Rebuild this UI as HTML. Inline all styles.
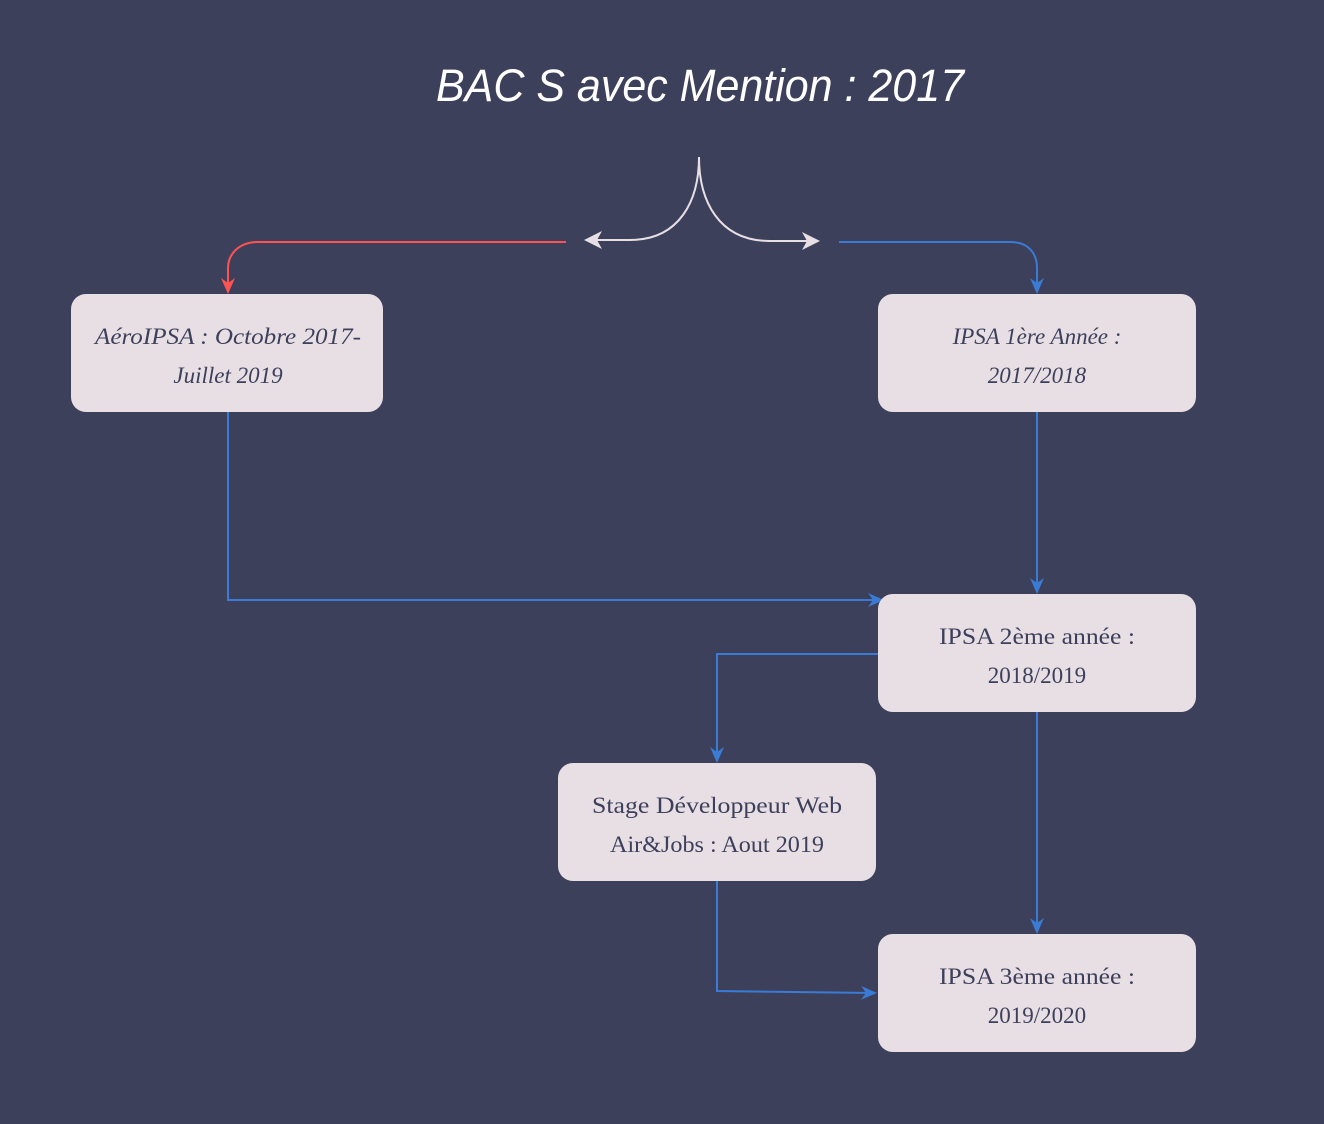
<!DOCTYPE html>
<html><head><meta charset="utf-8"><style>
html,body{margin:0;padding:0;background:#3d405b;}
svg{display:block}
.t{font-family:"Liberation Serif",serif;font-size:23px;fill:#3d405b;text-anchor:middle}
.i{font-style:italic}
</style></head><body>
<svg width="1324" height="1124" viewBox="0 0 1324 1124" xmlns="http://www.w3.org/2000/svg">
<defs>
<marker id="ab" markerWidth="16" markerHeight="16" refX="14" refY="8" orient="auto" markerUnits="userSpaceOnUse"><path d="M0,1 L16,8 L0,15 L5,8 Z" fill="#3a7bd5"/></marker>
<marker id="ar" markerWidth="16" markerHeight="16" refX="14" refY="8" orient="auto" markerUnits="userSpaceOnUse"><path d="M0,1 L16,8 L0,15 L5,8 Z" fill="#ff5252"/></marker>
<marker id="aw" markerWidth="18" markerHeight="18" refX="16" refY="9" orient="auto" markerUnits="userSpaceOnUse"><path d="M0,0 L18,9 L0,18 L5,9 Z" fill="#e8dfe5"/></marker>
</defs>
<rect width="1324" height="1124" fill="#3d405b"/>
<text x="700" y="101" font-family="Liberation Sans,sans-serif" font-style="italic" font-size="45" fill="#fff" text-anchor="middle" textLength="528" lengthAdjust="spacingAndGlyphs">BAC S avec Mention : 2017</text>
<g fill="none" stroke-width="2">
<path d="M699,157 C699,200 680,240 630,240 L586,240" stroke="#e8dfe5" marker-end="url(#aw)"/>
<path d="M699,157 C699,200 718,241 770,241 L818,241" stroke="#e8dfe5" marker-end="url(#aw)"/>
<path d="M566,242 L258,242 C238,242 228,255 228,268 L228,292" stroke="#ff5252" marker-end="url(#ar)"/>
<path d="M839,242 L1010,242 C1030,242 1037,255 1037,268 L1037,292" stroke="#3a7bd5" marker-end="url(#ab)"/>
<path d="M228,412 L228,600 L882,600" stroke="#3a7bd5" marker-end="url(#ab)"/>
<path d="M1037,412 L1037,592" stroke="#3a7bd5" marker-end="url(#ab)"/>
<path d="M878,654 L717,654 L717,761" stroke="#3a7bd5" marker-end="url(#ab)"/>
<path d="M1037,712 L1037,932" stroke="#3a7bd5" marker-end="url(#ab)"/>
<path d="M717,881 L717,991 L875,993" stroke="#3a7bd5" marker-end="url(#ab)"/>
</g>
<g fill="#e8dfe5">
<rect x="71" y="294" width="312" height="118" rx="15"/>
<rect x="878" y="294" width="318" height="118" rx="15"/>
<rect x="878" y="594" width="318" height="118" rx="15"/>
<rect x="558" y="763" width="318" height="118" rx="15"/>
<rect x="878" y="934" width="318" height="118" rx="15"/>
</g>
<text class="t i" x="228" y="344" textLength="266" lengthAdjust="spacingAndGlyphs">AéroIPSA : Octobre 2017-</text>
<text class="t i" x="228" y="383">Juillet 2019</text>
<text class="t i" x="1037" y="344">IPSA 1ère Année :</text>
<text class="t i" x="1037" y="383">2017/2018</text>
<text class="t" x="1037" y="644" textLength="196" lengthAdjust="spacingAndGlyphs">IPSA 2ème année :</text>
<text class="t" x="1037" y="683">2018/2019</text>
<text class="t" x="717" y="813" textLength="250" lengthAdjust="spacingAndGlyphs">Stage Développeur Web</text>
<text class="t" x="717" y="852" textLength="214" lengthAdjust="spacingAndGlyphs">Air&amp;Jobs : Aout 2019</text>
<text class="t" x="1037" y="984" textLength="196" lengthAdjust="spacingAndGlyphs">IPSA 3ème année :</text>
<text class="t" x="1037" y="1023">2019/2020</text>
</svg>
</body></html>
